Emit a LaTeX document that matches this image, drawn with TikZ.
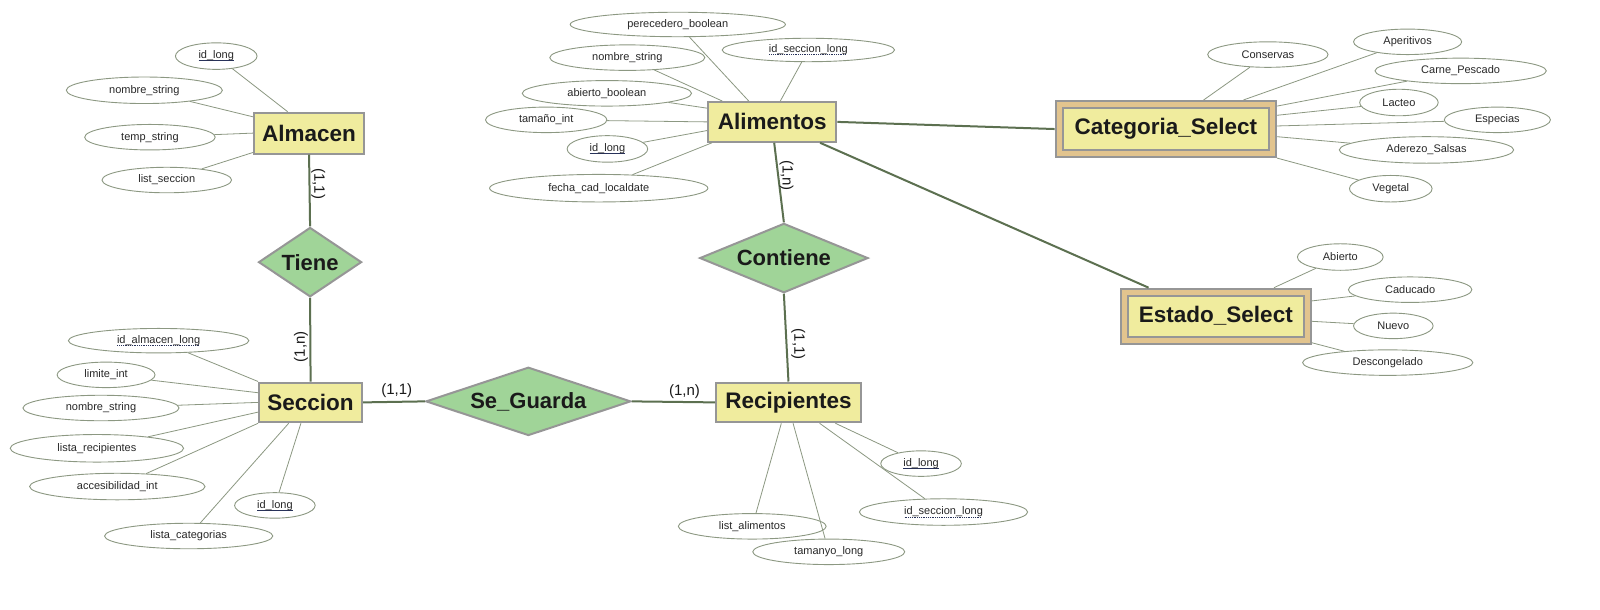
\documentclass[tikz,border=0pt]{standalone}
\usepackage{fontspec}
\setmainfont{Liberation Sans}
\usetikzlibrary{shapes.geometric,calc}
\definecolor{entf}{RGB}{240,236,158}
\definecolor{entb}{RGB}{150,150,150}
\definecolor{selfill}{RGB}{226,196,142}
\definecolor{relf}{RGB}{160,212,152}
\definecolor{conn}{RGB}{92,112,80}
\definecolor{attrl}{RGB}{140,152,130}
\definecolor{txt}{RGB}{26,26,26}
\definecolor{atxt}{RGB}{40,40,40}
\definecolor{ulc}{RGB}{40,50,90}
\newsavebox{\ulbox}
\newcommand{\solul}[1]{\sbox{\ulbox}{#1}\leavevmode\rlap{\raisebox{-2.6pt}{\textcolor{ulc}{\rule{\wd\ulbox}{0.9pt}}}}\usebox{\ulbox}}
\newcommand{\dotul}[1]{\sbox{\ulbox}{#1}\leavevmode\rlap{\raisebox{-2.6pt}{\hbox to \wd\ulbox{\textcolor{ulc}{\leaders\hbox to 1.8pt{\hss\rule{0.9pt}{0.8pt}\hss}\hfill}}}}\usebox{\ulbox}}
\begin{document}
\begin{tikzpicture}[x=1.02pt,y=-1.02pt,
  ent/.style 2 args={rectangle, draw=entb, fill=entf, line width=2pt, minimum width={#1*1.02pt}, minimum height={#2*1.02pt}, inner sep=0pt, text=txt, font=\bfseries\fontsize{22.5}{26}\selectfont},
  selo/.style 2 args={rectangle, draw=entb, fill=selfill, line width=2pt, minimum width={#1*1.02pt}, minimum height={#2*1.02pt}, inner sep=0pt},
  rel/.style n args={3}{diamond, aspect=#3, draw=entb, fill=relf, line width=2pt, minimum width={#1*1.02pt}, minimum height={#2*1.02pt}, inner sep=0pt, text=txt, font=\bfseries\fontsize{22}{26}\selectfont},
  attr/.style 2 args={ellipse, draw=attrl, line width=0.9pt, minimum width={#1*1.02pt}, minimum height={#2*1.02pt}, inner sep=0pt, text=atxt, font=\fontsize{11}{13}\selectfont},
  rl/.style={draw=conn, line width=2pt},
  al/.style={draw=attrl, line width=0.8pt},
  card/.style={font=\fontsize{15}{17}\selectfont, text=txt, inner sep=0pt}
]
\fill[white] (0,0) rectangle (1568.63,597.06);
\useasboundingbox (0,0) rectangle (1568.63,597.06);

% entities
\node[ent={108}{40}] (alm) at (303,130.5) {Almacen};
\node[ent={126}{39}] (ali) at (757,119.5) {Alimentos};
\node[ent={101}{39}] (sec) at (304.5,394.5) {Seccion};
\node[ent={142}{39}] (rec) at (773,394.5) {Recipientes};
\node[selo={216}{55}] (cat) at (1143,126.5) {};
\node[ent={202}{41}] (catin) at (1143,126.5) {Categoria\_Select};
\node[selo={186}{54}] (est) at (1192,310) {};
\node[ent={172}{40}] (estin) at (1192,310) {Estado\_Select};

% relationships
\node[rel={101}{68}{1.49}] (tiene) at (304,257) {Tiene};
\node[rel={165}{68}{2.43}] (cont) at (768.5,253) {Contiene};
\node[rel={201}{67}{3}] (seg) at (518,393.5) {Se\_Guarda};

% Almacen attributes
\node[attr={80}{26}] (aid) at (212,55) {\solul{id\_long}};
\node[attr={153}{26}] (anom) at (141.5,88.5) {nombre\_string};
\node[attr={128}{25}] (atemp) at (147,134.5) {temp\_string};
\node[attr={127}{25}] (alist) at (163.5,176.5) {list\_seccion};

% Seccion attributes
\node[attr={177}{24}] (sidalm) at (155.5,334) {\dotul{id\_almacen\_long}};
\node[attr={96}{25}] (slim) at (104,367.5) {limite\_int};
\node[attr={153}{25}] (snom) at (99,400) {nombre\_string};
\node[attr={170}{27}] (slrec) at (95,439.5) {lista\_recipientes};
\node[attr={172}{26}] (sacc) at (115,477) {accesibilidad\_int};
\node[attr={79}{25}] (sid) at (269.5,495.5) {\solul{id\_long}};
\node[attr={165}{25}] (slcat) at (185,525.5) {lista\_categorias};

% Alimentos attributes
\node[attr={211}{24}] (fper) at (664.5,24) {perecedero\_boolean};
\node[attr={169}{23}] (fidsec) at (792.5,49) {\dotul{id\_seccion\_long}};
\node[attr={152}{25}] (fnom) at (615,56.5) {nombre\_string};
\node[attr={166}{25}] (fabi) at (595,91.5) {abierto\_boolean};
\node[attr={119}{25}] (ftam) at (535.5,117.5) {tamaño\_int};
\node[attr={79}{26}] (fid) at (595.5,146) {\solul{id\_long}};
\node[attr={214}{27}] (ffecha) at (587,184.5) {fecha\_cad\_localdate};

% Categoria attributes
\node[attr={118}{25}] (ccons) at (1243,53.5) {Conservas};
\node[attr={106}{25}] (cape) at (1380,41) {Aperitivos};
\node[attr={168}{25}] (ccarne) at (1432,69.5) {Carne\_Pescado};
\node[attr={77}{26}] (clac) at (1371.5,100.5) {Lacteo};
\node[attr={104}{25}] (cesp) at (1468,117.5) {Especias};
\node[attr={171}{26}] (cader) at (1398.5,147) {Aderezo\_Salsas};
\node[attr={81}{26}] (cveg) at (1363.5,185) {Vegetal};

% Estado attributes
\node[attr={84}{26}] (eabi) at (1314,252) {Abierto};
\node[attr={121}{25}] (ecad) at (1382.5,284) {Caducado};
\node[attr={78}{25}] (enue) at (1366,319.5) {Nuevo};
\node[attr={167}{25}] (edesc) at (1360.5,355.5) {Descongelado};

% Recipientes attributes
\node[attr={79}{25}] (rid) at (903,454.5) {\solul{id\_long}};
\node[attr={165}{26}] (ridsec) at (925,502) {\dotul{id\_seccion\_long}};
\node[attr={145}{25}] (rlal) at (737.5,516) {list\_alimentos};
\node[attr={149}{25}] (rtam) at (812.5,541) {tamanyo\_long};

% main connectors
\draw[rl] (alm.south) -- (tiene.north);
\draw[rl] (tiene.south) -- (sec.north);
\draw[rl] (sec.east) -- (seg.west);
\draw[rl] (seg.east) -- (rec.west);
\draw[rl] ($(ali.south)+(2,0)$) -- (cont.north);
\draw[rl] (cont.south) -- (rec.north);
\draw[rl] (ali.east) -- (cat.west);
\draw[rl] ($(ali.south east)+(-17,0)$) -- ($(est.north west)+(28,0)$);

% cardinalities
\node[card, rotate=-90] (c1) at (312,180) {(1,1)};
\node[card, rotate=90] (c2) at (295,340) {(1,n)};
\node[card] (c3) at (389,383) {(1,1)};
\node[card] (c4) at (671,384) {(1,n)};
\node[card, rotate=-90] (c5) at (771,172) {(1,n)};
\node[card, rotate=-90] (c6) at (782.5,337.5) {(1,1)};

% attribute lines
\draw[al] (aid) -- ($(alm.north west)+(34,0)$);
\draw[al] (anom) -- ($(alm.north west)+(0,5)$);
\draw[al] (atemp) -- (alm.west);
\draw[al] (alist) -- ($(alm.south west)+(0,-2)$);

\draw[al] (sidalm) -- (sec.north west);
\draw[al] (slim) -- ($(sec.north west)+(0,11)$);
\draw[al] (snom) -- (sec.west);
\draw[al] (slrec) -- ($(sec.north west)+(0,30)$);
\draw[al] (sacc) -- (sec.south west);
\draw[al] (slcat) -- ($(sec.south west)+(30,0)$);
\draw[al] (sid) -- ($(sec.south west)+(42,0)$);

\draw[al] (fper) -- ($(ali.north west)+(41,0)$);
\draw[al] (fidsec) -- ($(ali.north west)+(72,0)$);
\draw[al] (fnom) -- ($(ali.north west)+(15,0)$);
\draw[al] (fabi) -- ($(ali.north west)+(0,7)$);
\draw[al] (ftam) -- (ali.west);
\draw[al] (fid) -- ($(ali.north west)+(0,29)$);
\draw[al] (ffecha) -- ($(ali.south west)+(5,0)$);

\draw[al] (ccons) -- ($(cat.north west)+(146,0)$);
\draw[al] (cape) -- ($(cat.north west)+(185,0)$);
\draw[al] (ccarne) -- ($(cat.north east)+(0,6)$);
\draw[al] (clac) -- ($(cat.north east)+(0,15)$);
\draw[al] (cesp) -- ($(cat.east)+(0,-3)$);
\draw[al] (cader) -- ($(cat.east)+(0,7.5)$);
\draw[al] (cveg) -- (cat.south east);

\draw[al] (eabi) -- ($(est.north west)+(151,0)$);
\draw[al] (ecad) -- ($(est.north east)+(0,13)$);
\draw[al] (enue) -- ($(est.east)+(0,5)$);
\draw[al] (edesc) -- ($(est.south east)+(0,-2)$);

\draw[al] (rlal) -- ($(rec.south west)+(65,0)$);
\draw[al] (rtam) -- ($(rec.south west)+(76.5,0)$);
\draw[al] (ridsec) -- ($(rec.south west)+(102.5,0)$);
\draw[al] (rid) -- ($(rec.south west)+(118,0)$);
\end{tikzpicture}
\end{document}
